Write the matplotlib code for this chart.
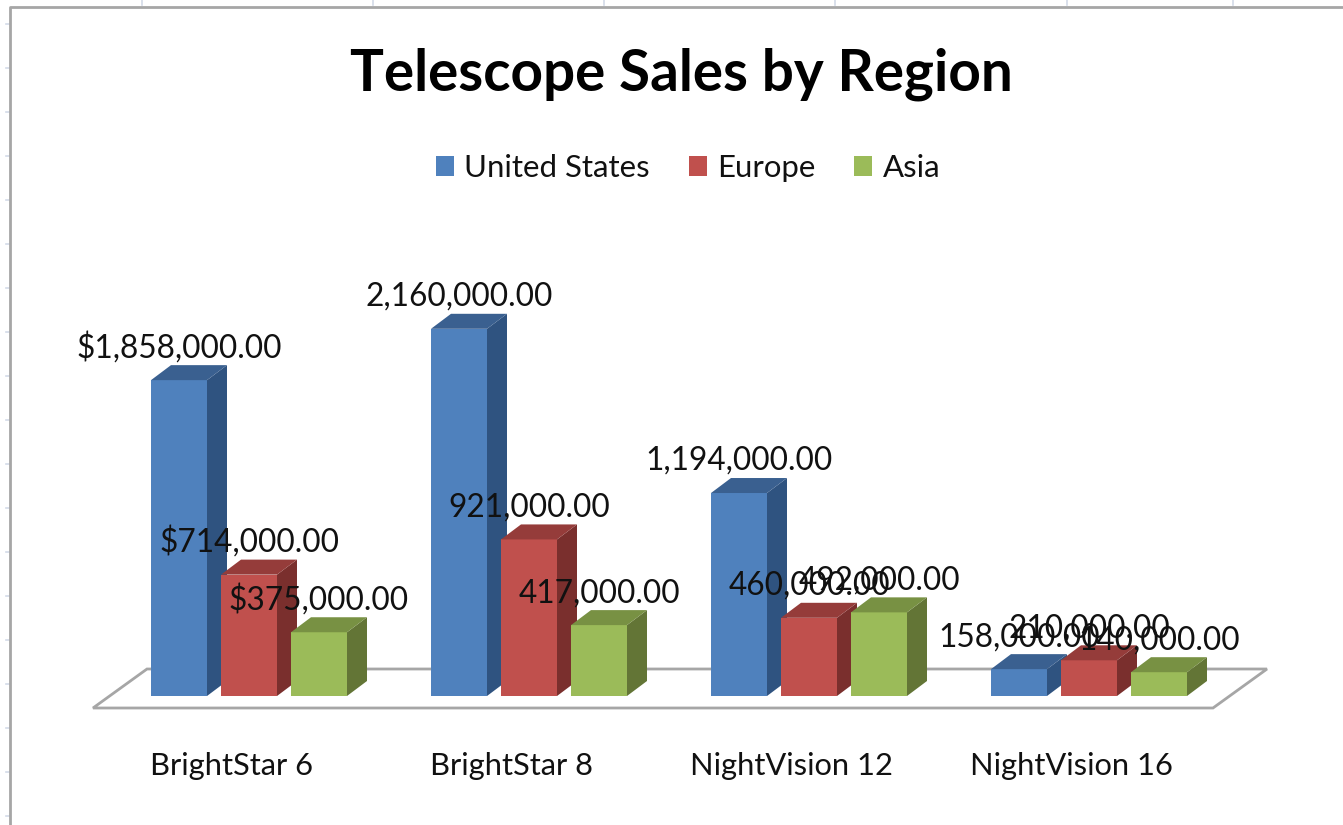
import matplotlib
matplotlib.use('Agg')
import matplotlib.pyplot as plt
from matplotlib.lines import Line2D
from matplotlib.patches import Patch, Polygon

categories = ['BrightStar 6', 'BrightStar 8', 'NightVision 12', 'NightVision 16']
united_states = [1858000, 2160000, 1194000, 158000]
europe = [714000, 921000, 460000, 210000]
asia = [375000, 417000, 492000, 140000]
series_names = ['United States', 'Europe', 'Asia']

W, H = 1343, 825
FONT = 'Lato'

# front, side, top of each bar
colors = [('#4F81BD', '#2F5380', '#3A6090'),
          ('#C0504D', '#7A2F2D', '#953C3A'),
          ('#9BBB59', '#637536', '#789143')]


def fx(px):
    return px / W


def fy(py):
    return 1 - py / H


fig = plt.figure(figsize=(W / 100, H / 100), dpi=100, facecolor='white')

# Axes bottom sits on the front edge of the floor
ax = fig.add_axes([0, fy(708), 1, (708 - 110) / H])
ax.patch.set_visible(False)
px_per_group = 280
px_per_unit = 170 / 1e6
ax.set_xlim(-249 / px_per_group, (W - 249) / px_per_group)
ax.set_ylim(-12 / px_per_unit, (696 - 110) / px_per_unit)

bar_w = 56 / px_per_group
step = 70 / px_per_group
depth_x = 20 / px_per_group
depth_y = 15 / px_per_unit

# Spreadsheet cells behind the chart
for x in [142, 373, 604, 835, 1067, 1233]:
    fig.add_artist(Line2D([fx(x), fx(x)], [fy(0), fy(5)], color='#D3DAE8', lw=1.2))
for y in range(24, H, 44):
    fig.add_artist(Line2D([fx(6), fx(9)], [fy(y), fy(y)], color='#D3DAE8', lw=1.2))

# Chart border
fig.add_artist(Line2D([fx(10), fx(10), fx(W)], [fy(H), fy(6.5), fy(6.5)],
                      color='#A6A6A6', lw=2))

# Floor
floor = Polygon([(fx(93), fy(708)), (fx(1213), fy(708)), (fx(1267), fy(669)), (fx(147), fy(669))],
                closed=True, facecolor='white', edgecolor='#A6A6A6', lw=2,
                transform=fig.transFigure, zorder=-1)
fig.add_artist(floor)

all_series = [united_states, europe, asia]
for g in range(len(categories)):
    for s, values in enumerate(all_series):
        v = values[g]
        x0 = g + (s - 1) * step - bar_w / 2
        x1 = x0 + bar_w
        front, side, top = colors[s]
        ax.bar(x0, v, width=bar_w, align='edge', color=front)
        ax.fill([x1, x1 + depth_x, x1 + depth_x, x1],
                [0, depth_y, v + depth_y, v], color=side, lw=0)
        ax.fill([x0, x1, x1 + depth_x, x0 + depth_x],
                [v, v, v + depth_y, v + depth_y], color=top, lw=0)

# Data labels go on top of every bar
for g in range(len(categories)):
    for s, values in enumerate(all_series):
        v = values[g]
        label = f'${v:,.2f}' if g == 0 else f'{v:,.2f}'
        ax.annotate(label, (g + (s - 1) * step, v), xytext=(0, 23 * 0.72),
                    textcoords='offset points', ha='center', va='baseline',
                    family=FONT, fontsize=22.8, color='#111111', zorder=10)

ax.set_xticks([g - 18 / px_per_group for g in range(len(categories))], categories)
ax.set_yticks([])
ax.tick_params(axis='x', length=0, pad=31.5, labelsize=22.2, labelcolor='#111111')
for t in ax.get_xticklabels():
    t.set_family(FONT)
for sp in ax.spines.values():
    sp.set_visible(False)

fig.text(fx(681), fy(74.5), 'Telescope Sales by Region', ha='center', va='center',
         family=FONT, fontweight='bold', fontsize=40.8, color='black')

handles = [Patch(facecolor=c[0], edgecolor='none') for c in colors]
fig.legend(handles, series_names, loc='center', bbox_to_anchor=(fx(688), fy(168)), ncol=3,
           frameon=False, prop={'family': FONT, 'size': 22.4}, handlelength=0.58, handleheight=0.58,
           handletextpad=0.33, columnspacing=1.25, labelcolor='#111111')

fig.savefig('out.png', dpi=100)
